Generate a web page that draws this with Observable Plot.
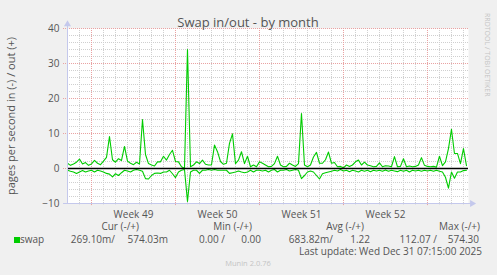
<!DOCTYPE html>
<html><head><meta charset="utf-8">
<script src="https://cdn.jsdelivr.net/npm/d3@7"></script>
<script src="https://cdn.jsdelivr.net/npm/@observablehq/plot@0.6"></script>
<style>
html,body{margin:0;padding:0;background:#f0f0f0;}
#wrap{width:497px;height:275px;overflow:hidden;}
</style></head><body><div id="wrap"></div>
<script>
// ---- data ----
const stepDays = 0.25;           // one sample every 6 hours
const xMaxDays = 33.42;          // visible span in days
const outVals = [1.5,0.9,1.3,1.8,2.7,1.3,1.7,0.9,1.3,2.3,1.5,1.1,2.1,3.2,9.1,2.5,1.8,2.8,2.3,6.3,
  2.1,1.5,1.1,1.8,1.3,14.0,4.0,1.4,1.0,0.7,1.9,1.9,3.5,2.4,4.0,5.2,2.0,1.9,0.5,0.1,
  34.0,0.5,1.0,1.9,1.4,2.4,1.2,1.0,1.0,6.7,4.8,2.0,1.2,1.5,7.2,9.9,1.4,2.4,4.8,1.4,
  3.5,0.5,1.0,0.5,1.9,1.5,1.0,0.5,0.6,1.4,3.5,1.0,0.5,0.6,1.5,1.0,0.6,1.4,15.7,1.0,
  0.5,1.0,3.3,4.6,1.5,1.5,2.5,4.7,1.5,1.7,0.5,0.6,0.2,1.0,0.6,1.0,1.9,2.4,1.0,1.8,
  1.0,0.8,0.5,0.6,1.6,0.5,0.8,0.7,0.5,3.4,0.5,0.6,2.8,0.5,0.7,0.5,0.6,1.0,3.1,0.9,
  0.6,0.5,0.6,0.4,3.5,0.8,1.9,5.7,11.2,4.3,4.3,1.4,5.7,0.8];
const inVals = [0.5,0.8,1.0,1.4,1.0,0.6,1.0,0.7,0.5,1.0,0.5,0.7,1.0,1.4,1.6,2.4,1.5,2.0,1.2,0.5,
  0.7,1.0,0.5,0.3,0.5,0.8,2.9,3.0,2.0,1.4,1.3,1.4,1.0,1.0,0.5,1.5,2.6,1.0,0.5,0.3,
  9.4,1.0,0.5,0.5,1.4,0.5,0.5,0.3,0.5,0.3,0.5,0.5,0.5,0.5,1.4,1.2,1.0,0.7,1.0,1.2,
  1.0,0.5,1.0,0.5,0.5,0.7,0.5,1.0,0.5,0.3,1.0,0.5,0.5,0.3,0.7,0.5,0.3,0.5,2.9,2.0,
  1.0,0.7,1.0,2.0,3.0,1.5,1.2,1.0,0.8,0.5,0.7,0.3,0.7,0.5,0.9,0.5,0.7,1.0,0.5,0.8,
  0.5,0.9,0.5,0.7,0.5,0.8,0.4,0.8,0.5,0.7,0.9,0.5,0.8,0.5,1.0,0.5,0.7,0.5,0.8,0.5,
  0.7,0.5,0.8,0.5,0.8,1.0,2.5,5.6,1.0,2.8,1.0,1.0,0.6,0.5];
const weekLines = [2, 9, 16, 23, 30];
const weekLabels = ["Week 49", "Week 50", "Week 51", "Week 52"];
const yTicks = [-10, 0, 10, 20, 30, 40];
const yDomain = [-10, 40];
const titleText = "Swap in/out - by month";
const yLabel = "pages per second in (-) / out (+)";
const sideText = "RRDTOOL / TOBI OETIKER";
const legendHeaders = ["Cur (-/+)", "Min (-/+)", "Avg (-/+)", "Max (-/+)"];
const seriesName = "swap";
const legendValues = [["269.10m/", "574.03m"], ["0.00 /", "0.00"], ["683.82m/", "1.22"], ["112.07 /", "574.30"]];
const lastUpdate = "Last update: Wed Dec 31 07:15:00 2025";
const footer = "Munin 2.0.76";

// ---- derived tables ----
const outData = outVals.map((v, i) => ({t: i * stepDays, v}));
const inData = inVals.map((v, i) => ({t: i * stepDays, v: -v}));
const dayLines = d3.range(1, Math.floor(xMaxDays) + 1).filter(d => !weekLines.includes(d));
const weekMids = d3.pairs(weekLines).map(([a, b]) => (a + b) / 2);
const minorY = d3.range(yDomain[0], yDomain[1] + 1, 2).filter(d => d % 10 !== 0);

const FONT = "'Open Sans', 'Noto Sans', sans-serif";
const GREEN = "#00cc00";
const MINOR = "#cfcfcf";
const MAJOR = "#e9a0a0";
const AXIS = "#c4c8ec";

const chart = Plot.plot({
  width: 497, height: 275,
  marginLeft: 67, marginRight: 29, marginTop: 28, marginBottom: 72,
  x: {domain: [0, xMaxDays]},
  y: {domain: yDomain},
  style: {background: "#f0f0f0", fontFamily: FONT, fontSize: "10px", color: "#555", overflow: "visible"},
  marks: [
    Plot.frame({fill: "white", stroke: "none"}),
    Plot.ruleX(dayLines, {stroke: MINOR, strokeDasharray: "1,1"}),
    Plot.ruleY(minorY, {stroke: MINOR, strokeDasharray: "1,1"}),
    Plot.ruleX(weekLines, {stroke: MAJOR, strokeDasharray: "1,1"}),
    Plot.ruleY(yTicks.filter(d => d !== yDomain[0]), {x1: -0.33, x2: xMaxDays, stroke: MAJOR, strokeDasharray: "1,1"}),
    Plot.ruleX(weekLines, {y1: yDomain[0] - 0.6, y2: yDomain[0], stroke: MAJOR}),
    Plot.ruleX(dayLines, {y1: yDomain[0] - 0.4, y2: yDomain[0], stroke: MINOR}),
    Plot.line(outData, {x: "t", y: "v", stroke: GREEN, strokeWidth: 1.1}),
    Plot.line(inData, {x: "t", y: "v", stroke: GREEN, strokeWidth: 1.1}),
    Plot.ruleY([0], {stroke: "#000", strokeWidth: 1.5}),
    Plot.ruleY([yDomain[0]], {x1: -0.33, x2: xMaxDays + 0.3, stroke: AXIS}),
    Plot.ruleX([0], {y1: yDomain[0], y2: yDomain[1] + 1.2, stroke: AXIS}),
    Plot.dot([{t: 0, v: yDomain[1] + 1.2}], {x: "t", y: "v", symbol: "triangle", r: 2.6, fill: AXIS, stroke: "none"}),
    Plot.dot([{t: xMaxDays + 0.3, v: yDomain[0]}], {x: "t", y: "v", symbol: "triangle", r: 2.6, rotate: 90, fill: AXIS, stroke: "none"}),
    Plot.axisY({ticks: yTicks, tickSize: 0, tickPadding: 8, fontSize: 10, label: null}),
    Plot.axisX({ticks: weekMids, tickFormat: (d, i) => weekLabels[i], tickSize: 0, tickPadding: 7, fontSize: 10, label: null})
  ]
});
document.getElementById("wrap").appendChild(chart);

// ---- titles and legend as SVG text ----
const svg = d3.select(chart);
const g = svg.append("g").attr("font-family", FONT).attr("fill", "#555");
function txt(x, y, s, size, anchor = "start", fill = null, transform = null) {
  const t = g.append("text").attr("font-size", size).attr("text-anchor", anchor).text(s);
  if (transform) t.attr("transform", transform); else t.attr("x", x).attr("y", y);
  if (fill) t.attr("fill", fill);
  return t;
}
txt(248, 26.5, titleText, 13, "middle");
txt(0, 0, yLabel, 11, "middle", null, "translate(15,116) rotate(-90)");
txt(0, 0, sideText, 7, "start", "#c4c4c4", "translate(485,13) rotate(90)");
const headerRight = [139, 252, 364, 480];
legendHeaders.forEach((h, i) => txt(headerRight[i], 230, h, 10, "end"));
g.append("rect").attr("x", 14).attr("y", 237).attr("width", 6).attr("height", 6).attr("fill", GREEN);
txt(20, 242.5, seriesName, 10);
const valRight = [[115, 168], [225, 261], [333, 370], [437, 479]];
legendValues.forEach((pair, i) => pair.forEach((s, j) => txt(valRight[i][j], 242.5, s, 10, "end")));
txt(482, 255, lastUpdate, 10, "end");
txt(248, 266, footer, 7.5, "middle", "#c4c4c4");
</script></body></html>
